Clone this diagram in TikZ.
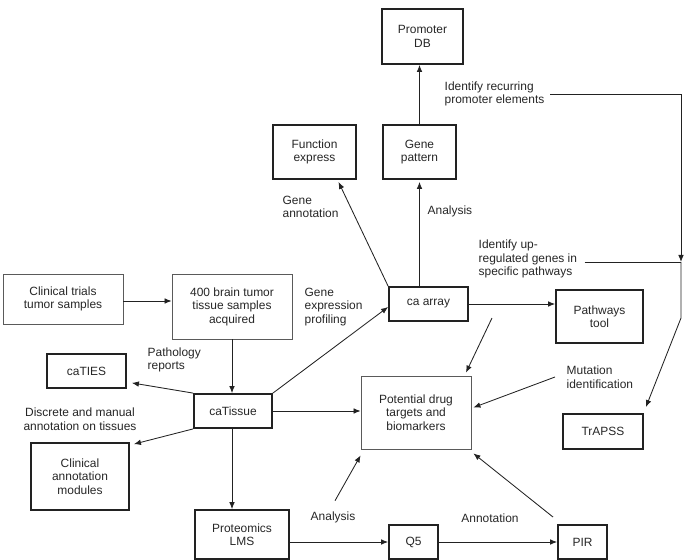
\documentclass[tikz,border=0pt]{standalone}
\usepackage{fontspec}
\setmainfont{Liberation Sans}
\usetikzlibrary{arrows.meta,positioning,calc}
\definecolor{edge}{HTML}{222222}
\definecolor{paleedge}{HTML}{5A5A5A}
\definecolor{txt}{HTML}{262626}

\tikzset{
  box/.style n args={2}{draw=edge,line width=1.3pt,align=center,inner sep=1pt,
    minimum width=#1*0.025cm,minimum height=#2*0.025cm},
  pale/.style n args={2}{box={#1}{#2},line width=0.6pt,draw=paleedge},
  lbl/.style={align=left,inner sep=1pt,anchor=west},
  ln/.style={draw=edge,line width=0.6pt},
  arr/.style={ln,-{Latex[length=5pt,width=4pt]}}
}

\begin{document}
\begin{tikzpicture}[x=0.025cm,y=-0.025cm,
  font=\fontsize{8.5}{9.6}\selectfont,
  every node/.style={text=txt}]

  \useasboundingbox (0,0) rectangle (687,560);

  % boxes
  \node[box={81}{55}]  (promoter) at (422.5,36.5) {Promoter\\DB};
  \node[box={73}{54}]  (genepat)  at (419.5,152)  {Gene\\pattern};
  \node[box={83}{54}]  (funcexp)  at (314.5,152)  {Function\\express};
  \node[pale={120}{50}] (clinical) at (63,299)    {Clinical trials\\tumor samples};
  \node[pale={120}{65}] (brain)    at (232,306.5) {400 brain tumor\\tissue samples\\acquired};
  \node[box={79}{34}]  (caties)   at (86.5,371)   {caTIES};
  \node[box={78}{34}]  (catissue) at (233,411)    {caTissue};
  \node[box={98}{67}]  (clinann)  at (80,476.5)   {Clinical\\annotation\\modules};
  \node[box={94}{49}]  (proteo)   at (242,534.5)  {Proteomics\\LMS};
  \node[box={79}{34}]  (caarray)  at (428.5,304)  {ca array};
  \node[box={87}{53}]  (pathways) at (599.5,316.5) {Pathways\\tool};
  \node[pale={110}{73}] (drug)    at (416,412.5)  {Potential drug\\targets and\\biomarkers};
  \node[box={80}{35}]  (trapss)   at (603,431.5)  {TrAPSS};
  \node[box={49}{34}]  (qfive)    at (413.5,542)  {Q5};
  \node[box={49}{34}]  (pir)      at (582.5,542)  {PIR};

  % labels
  \node[lbl] (pathrep)  at (146,360) {Pathology\\reports};
  \node[align=center,inner sep=1pt] (discrete) at (80,419) {Discrete and manual\\annotation on tissues};
  \node[lbl] (geneprof) at (303,307) {Gene\\expression\\profiling};
  \node[lbl] (geneann)  at (281,207) {Gene\\annotation};
  \node[lbl] (anatop)   at (426,211) {Analysis};
  \node[lbl] (recur)    at (443,94)  {Identify recurring\\promoter elements};
  \node[lbl] (upreg)    at (477,259) {Identify up-\\regulated genes in\\specific pathways};
  \node[lbl] (mutation) at (565,377) {Mutation\\identification};
  \node[inner sep=1pt] (anabot) at (333,517) {Analysis};
  \node[inner sep=1pt] (annot)  at (490,518) {Annotation};

  % connectors
  \draw[arr] (clinical.east |- 0,301) -- (brain.west |- 0,301);
  \draw[arr] (brain.south) -- (catissue.north -| brain.south);
  \draw[arr] (catissue.north west) -- ([shift={(5,-6)}]caties.south east);
  \draw[arr] (catissue.south west) -- ([shift={(4,2)}]clinann.north east);
  \draw[arr] (catissue.south -| 232,0) -- (proteo.north -| 232,0);
  \draw[arr] (catissue.east) -- (catissue.east -| drug.west);
  \draw[arr] (catissue.north east) -- ([shift={(0,3)}]caarray.west);
  \draw[arr] (caarray.north west) -- ([shift={(24,2)}]funcexp.south);
  \draw[arr] (caarray.north -| genepat.south) -- ([shift={(0,2)}]genepat.south);
  \draw[arr] (genepat.north) -- (promoter.south -| genepat.north);
  \draw[arr] (caarray.east) -- (caarray.east -| pathways.west);

  \coordinate (below) at (492,318);
  \draw[arr] (below) -- ([shift={(50,-3)}]drug.north);
  \draw[arr] ([shift={(-10,0)}]mutation.west) -- ([shift={(2,-5)}]drug.east);
  \draw[arr] ([shift={(2,-9)}]anabot.north) -- ([shift={(0,6)}]drug.south west);
  \draw[arr] ([shift={(-4,-7)}]pir.north west) -- ([shift={(2,4)}]drug.south east);
  \draw[arr] (qfive.west -| proteo.east) -- (qfive.west);
  \draw[arr] (qfive.east) -- (pir.west);

  % route to TrAPSS
  \coordinate (junc) at (681,262);
  \coordinate (bend) at (681,318);
  \draw[arr] ([shift={(4,0)}]recur.east) -- (recur.east -| junc) -- (junc);
  \draw[ln] ([shift={(6,0)}]upreg.east |- junc) -- (junc);
  \draw[arr] (junc) -- (bend) -- ([shift={(2,-6)}]trapss.north east);

\end{tikzpicture}
\end{document}
